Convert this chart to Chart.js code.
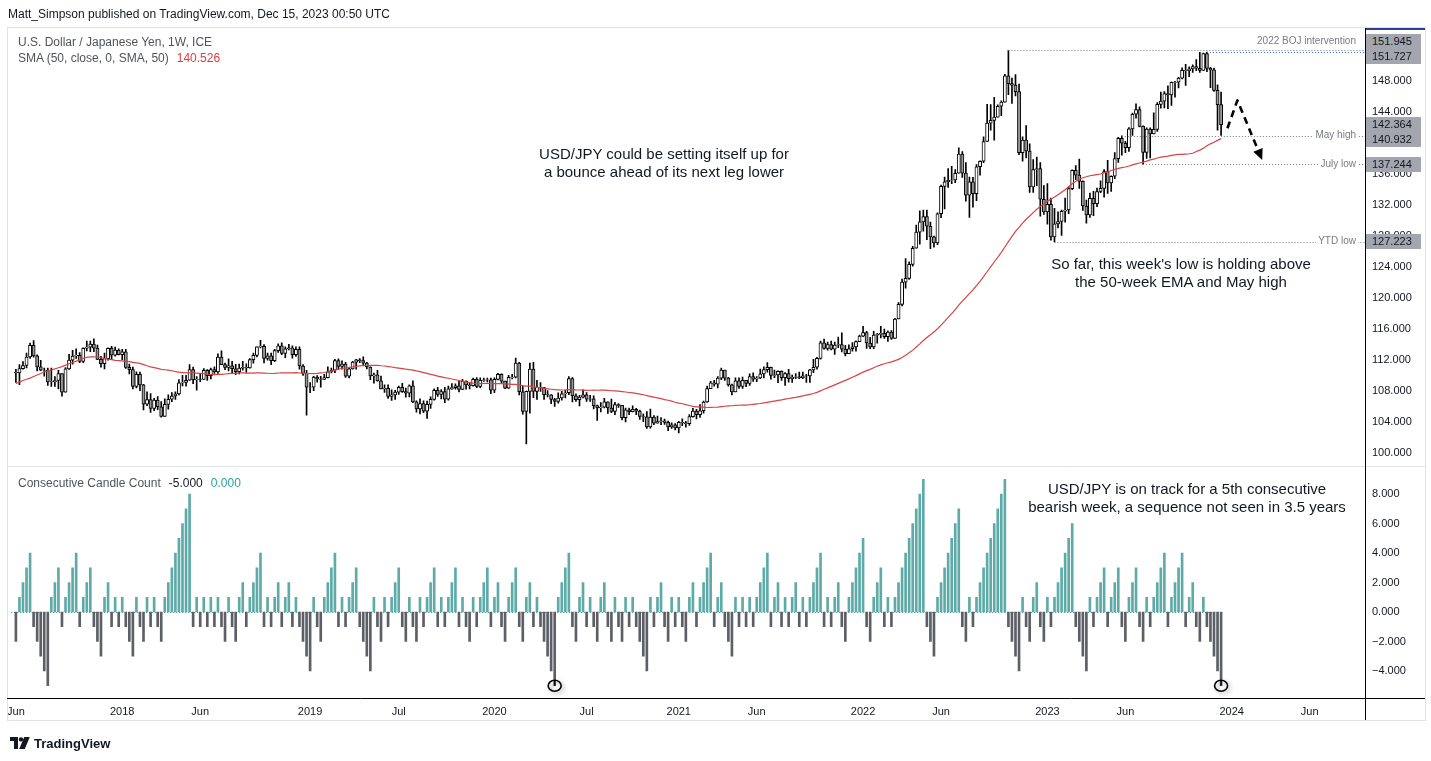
<!DOCTYPE html>
<html><head><meta charset="utf-8">
<script src="https://cdn.jsdelivr.net/npm/chart.js@4.4.1/dist/chart.umd.min.js"></script>
<style>
html,body{margin:0;padding:0;background:#fff;}
body{width:1431px;height:761px;position:relative;overflow:hidden;font-family:"Liberation Sans",Arial,sans-serif;color:#131722;}
#c{position:absolute;left:0;top:0;}
.t{position:absolute;white-space:nowrap;}
.note{position:absolute;width:420px;text-align:center;font-size:15px;line-height:18px;color:#131722;white-space:nowrap;}
.leg{position:absolute;font-size:12px;line-height:14px;color:#50535e;white-space:nowrap;}
.box{position:absolute;left:1366px;width:55px;height:15px;line-height:15px;background:#a3a6af;color:#131722;font-size:11px;padding-left:6px;box-sizing:border-box;}
.lvl{position:absolute;right:73px;font-size:10px;line-height:12px;color:#787b86;background:#fff;padding:0 2px;white-space:nowrap;}
</style></head><body>
<canvas id="c" width="1431" height="761"></canvas>
<div class="t" style="left:8px;top:7px;font-size:12px;line-height:14px;color:#131722;">Matt_Simpson published on TradingView.com, Dec 15, 2023 00:50 UTC</div>
<div class="leg" style="left:18px;top:35px;">U.S. Dollar / Japanese Yen, 1W, ICE</div>
<div class="leg" style="left:18px;top:51px;">SMA (50, close, 0, SMA, 50)<span style="color:#e0393e;margin-left:8px;">140.526</span></div>
<div class="leg" style="left:18px;top:476px;">Consecutive Candle Count<span id="cntVal" style="color:#131722;margin-left:8px;">-5.000</span><span style="color:#26a69a;margin-left:8px;">0.000</span></div>
<div class="note" style="left:454px;top:145px;">USD/JPY could be setting itself up for<br>a bounce ahead of its next leg lower</div>
<div class="note" style="left:971px;top:255px;">So far, this week's low is holding above<br>the 50-week EMA and May high</div>
<div class="note" style="left:977px;top:480px;">USD/JPY is on track for a 5th consecutive<br>bearish week, a sequence not seen in 3.5 years</div>
<div style="position:absolute;left:0;top:699px;width:7px;height:20px;background:#fff;"></div>
<div class="t" style="left:10px;top:736px;height:14px;display:flex;align-items:center;">
<svg width="20" height="12" viewBox="0 0 20 12"><path d="M0 0h8v12H4V4H0z" fill="#131722"/><circle cx="11" cy="2.4" r="2.2" fill="#131722"/><path d="M14.2 0h5.6l-5 12H9.2z" fill="#131722"/></svg>
<span style="margin-left:4px;font-size:13px;font-weight:bold;color:#131722;">TradingView</span></div>
<div id="ov"></div>
<script>
// ---- data (weekly USD/JPY, first candle = week of 2017-06-05) ----
const firstWeek = '2017-06-05';
const tickWeeks  = [0,30,52,83,108,135,161,187,209,239,261,291,313,343,365];
const tickLabels = ['Jun','2018','Jun','2019','Jul','2020','Jul','2021','Jun','2022','Jun','2023','Jun','2024','Jun'];

// 49 weekly closes before the first candle (used for SMA 50 and candle count history)
const priorCloses = [102.52,100.57,104.87,106.13,102.06,101.84,101.26,100.21,101.82,103.94,
102.59,102.27,100.99,101.32,102.91,104.16,103.81,104.71,103.10,106.65,
110.89,113.23,113.52,115.29,117.91,117.27,116.96,116.95,114.49,114.58,
115.11,112.59,113.23,112.89,112.13,114.05,114.79,112.69,111.33,111.39,
111.10,108.63,109.16,111.50,112.71,113.37,111.28,111.33,110.40];

const closes = [
110.33,110.88,111.29,112.39,113.90,112.53,111.12,110.70,110.69,109.18,
109.20,109.35,110.25,107.84,110.85,111.99,112.51,112.61,111.82,113.52,
113.67,114.05,113.53,112.07,111.52,112.17,113.49,112.61,113.28,112.69,
113.05,111.05,110.76,108.60,110.16,108.79,106.31,106.90,105.75,106.82,
105.96,104.72,106.28,106.93,107.35,107.62,109.05,109.10,109.38,110.77,
109.42,109.53,109.50,110.66,109.98,110.76,110.46,112.39,111.40,111.05,
111.25,110.87,110.50,110.95,111.05,110.98,112.05,112.60,113.70,113.75,
112.20,112.55,111.90,113.20,113.82,112.85,113.45,113.57,112.70,113.39,
111.22,110.27,108.50,108.48,109.78,109.55,109.48,109.72,110.48,110.68,
111.93,111.17,111.47,109.91,110.86,111.72,112.02,111.92,111.59,111.10,
109.95,110.07,109.30,108.28,108.35,107.30,107.50,107.85,108.47,107.91,
107.71,108.68,106.59,105.68,106.37,105.39,106.28,106.92,108.09,107.56,
107.92,106.95,108.29,108.43,108.67,108.19,109.26,108.79,108.68,109.50,
108.58,109.37,109.43,109.44,108.09,109.50,110.14,109.27,108.35,109.75,
109.78,111.60,107.90,105.36,107.94,110.83,107.94,108.48,108.44,107.53,
107.50,106.90,106.64,107.10,107.63,107.77,109.59,107.38,106.87,107.21,
107.51,106.93,106.99,106.12,105.83,105.92,106.60,105.80,105.37,106.23,
106.15,104.56,105.57,105.32,105.62,105.40,104.71,104.65,103.36,104.63,
103.86,104.06,104.16,103.95,103.35,103.62,103.24,103.95,103.88,103.77,
104.70,105.41,104.94,105.45,106.58,108.31,109.04,108.87,109.66,110.69,
109.66,108.78,107.89,109.31,108.59,109.37,108.97,109.86,109.53,109.67,
110.21,110.75,111.05,110.00,110.08,110.55,109.72,110.25,109.59,109.79,
109.84,109.71,109.94,109.93,110.73,111.06,112.20,114.22,113.48,114.00,
113.38,113.91,114.00,113.40,112.81,113.45,113.70,114.37,115.08,115.55,
114.19,113.68,115.20,115.30,115.45,115.01,115.59,114.79,117.29,119.17,
122.05,122.53,124.33,126.42,128.50,129.83,130.51,129.26,127.89,127.12,
130.87,134.41,135.00,135.20,135.23,136.10,138.57,136.12,133.28,134.99,
133.45,136.94,137.64,140.19,142.56,142.91,143.33,144.74,145.28,148.68,
147.66,147.47,146.62,138.75,140.37,138.97,134.32,136.58,136.69,132.74,
131.11,132.08,127.87,129.57,129.87,131.19,131.36,134.12,136.48,135.86,
135.05,131.87,130.72,132.86,132.18,133.74,134.15,136.30,134.84,135.71,
137.99,140.60,139.97,139.40,141.83,143.71,144.31,142.14,138.78,141.81,
141.17,141.75,144.98,145.40,146.39,146.21,147.83,147.86,148.37,149.37,
149.32,149.57,149.86,149.65,149.38,151.53,149.62,149.44,146.80,144.95,
142.364];

const highs = [
110.80,111.42,111.79,112.90,114.17,114.49,112.65,111.97,110.95,110.96,
110.95,109.85,110.67,110.19,111.03,112.72,113.26,113.44,112.95,113.57,
114.45,114.45,114.73,113.91,112.46,112.88,113.57,113.75,113.65,113.43,
113.38,113.39,111.48,111.08,110.48,110.45,108.87,107.90,107.68,107.05,
107.29,106.64,107.00,107.49,107.79,107.90,109.48,110.03,110.02,111.40,
111.09,109.85,110.28,110.90,110.75,110.96,111.13,112.80,113.18,111.59,
112.15,111.82,111.45,111.48,111.83,111.50,112.17,112.88,113.70,114.55,
113.98,112.90,112.90,113.39,114.09,114.21,113.70,114.03,113.83,113.71,
113.70,111.40,110.67,109.10,109.89,110.00,109.88,110.16,111.13,110.95,
112.08,112.14,111.90,111.69,111.00,111.83,112.10,112.17,112.40,111.70,
111.13,110.32,110.67,109.92,108.80,108.80,108.16,108.10,108.64,108.99,
108.38,108.78,109.32,106.74,106.98,106.73,106.70,107.23,108.27,108.48,
108.18,108.47,108.63,108.95,108.93,109.28,109.49,109.31,109.13,109.68,
109.73,109.70,109.68,109.67,109.68,109.70,110.29,110.21,109.25,110.02,
110.14,112.23,111.71,108.60,108.00,111.60,111.71,109.38,109.10,108.08,
108.05,107.52,107.05,107.77,107.96,108.08,109.85,109.74,107.64,107.43,
108.16,107.79,107.44,107.39,106.18,106.49,107.05,106.58,106.95,106.55,
106.38,106.00,105.80,105.80,106.10,105.75,105.54,105.06,105.35,105.68,
104.83,104.75,104.56,104.38,104.12,103.89,103.79,104.09,104.40,104.09,
104.94,105.76,105.64,106.23,106.69,108.64,109.24,109.36,109.85,110.97,
110.49,109.76,108.88,109.70,109.70,109.79,109.32,110.20,110.33,109.85,
110.82,111.11,111.66,111.10,110.70,110.60,110.59,110.37,110.80,110.06,
110.26,110.43,110.45,110.16,110.79,112.08,112.35,114.45,114.69,114.32,
114.44,114.30,114.97,115.52,113.90,113.95,114.26,114.47,115.20,116.35,
115.70,114.92,115.69,115.44,116.34,116.00,115.76,115.80,117.36,119.41,
122.44,125.09,124.68,126.68,129.40,131.25,131.34,131.34,129.78,128.00,
130.99,134.56,135.59,136.71,137.00,136.58,139.39,138.88,137.47,135.59,
135.58,137.23,137.70,140.80,144.99,144.96,145.90,144.93,145.43,148.86,
151.945,148.38,148.83,147.60,140.80,142.25,139.89,137.86,138.18,137.48,
134.49,134.77,132.88,131.58,131.12,131.36,132.90,134.33,136.54,137.10,
137.91,135.11,132.64,133.54,133.76,134.18,135.13,136.56,137.77,135.76,
138.75,140.73,140.932,140.23,141.98,143.87,145.07,144.68,142.20,141.95,
141.95,143.89,145.22,146.56,146.63,147.37,147.87,147.95,148.46,149.71,
150.16,149.83,150.08,150.78,151.70,151.59,151.727,149.75,149.68,147.50,
146.58];

const lows = [
109.10,108.82,110.80,110.97,112.19,112.35,110.60,110.62,109.92,108.73,
108.60,108.60,108.27,107.32,107.84,110.77,111.45,112.21,111.64,111.65,
113.17,113.07,113.07,112.03,111.07,110.84,111.99,112.03,112.48,112.65,
112.04,110.92,110.19,108.28,108.40,108.05,105.55,106.09,105.24,105.47,
105.60,104.63,104.73,105.66,106.62,106.92,107.49,108.65,108.63,109.36,
108.95,108.11,109.20,109.56,109.37,109.57,110.28,110.27,111.38,110.75,
110.58,110.33,110.11,110.20,110.67,110.38,110.94,111.60,112.40,113.57,
111.63,111.98,111.38,111.78,112.97,112.70,112.30,113.30,112.23,112.45,
110.82,110.00,104.87,107.77,108.05,109.15,108.50,109.50,109.70,110.34,
110.36,110.80,110.80,109.75,109.70,110.83,110.83,111.66,111.34,110.86,
109.47,109.02,109.28,108.27,107.82,107.04,106.78,106.90,107.55,107.80,
107.20,107.22,106.48,105.27,105.05,105.20,104.46,105.75,106.83,107.31,
106.97,106.49,106.81,108.21,108.25,107.89,108.18,108.25,108.26,108.61,
108.42,108.44,109.23,109.17,107.65,107.77,109.44,108.93,108.31,108.32,
109.57,109.70,107.50,105.00,101.18,105.15,107.15,106.92,107.95,106.92,
107.25,106.36,106.02,106.42,106.83,107.11,107.52,106.58,106.65,106.07,
107.10,106.64,106.64,105.68,104.19,105.29,105.80,105.11,105.20,104.93,
105.88,104.28,104.00,104.94,105.30,104.94,104.34,104.03,103.18,103.21,
103.65,103.92,103.66,103.69,102.87,103.16,102.96,102.59,103.52,103.33,
103.55,104.61,104.41,104.59,105.15,106.52,108.33,108.61,108.41,109.47,
109.36,108.61,107.48,107.90,108.34,108.34,108.57,108.72,109.25,109.19,
109.58,109.70,110.42,109.53,109.72,109.07,109.35,108.72,109.13,109.12,
109.59,109.59,109.60,109.11,109.11,110.35,110.82,112.10,113.41,113.26,
113.30,112.72,113.59,113.05,112.54,113.04,113.14,113.13,114.37,115.02,
113.48,113.47,113.47,114.16,114.86,114.78,114.40,114.66,114.82,117.32,
118.97,121.28,122.39,124.10,126.42,126.94,128.63,127.52,126.36,126.55,
126.87,130.38,131.50,134.26,134.74,134.87,136.12,135.56,132.51,130.41,
131.73,132.56,135.85,137.45,141.50,141.66,140.36,143.51,143.53,145.27,
146.23,145.10,146.06,138.48,137.67,138.06,133.62,133.63,134.50,130.57,
130.78,129.51,127.46,127.223,129.03,128.08,129.80,130.89,133.99,135.26,
134.13,131.30,129.64,130.40,130.63,131.80,133.60,133.01,133.50,133.75,
135.39,137.49,138.43,138.76,138.92,140.98,143.21,142.07,137.244,138.01,
138.06,141.51,141.51,144.48,144.54,144.44,144.85,145.91,147.10,148.28,
147.43,148.57,149.10,149.32,149.11,149.74,149.20,147.15,146.67,141.65,
140.97];

const levelLines  = [151.945, 151.727, 140.932, 137.244, 127.223];
const levelStarts = [280, 336, 312, 318, 293];
const levelColors = ['#787b86','#2962ff','#787b86','#787b86','#787b86'];
const axisBoxValues = [151.945, 151.727, 142.364, 140.932, 137.244, 127.223];
const axisBoxShift  = [-9, 4, 0, 4, 0, -1];
const levelTextLabels = ['2022 BOJ intervention','May high','July low','YTD low'];
const levelTextValues = [151.945, 140.932, 137.244, 127.223];
const levelTextShift  = [-9, -1, 0, -1];
const circledWeeks = [152, 340];
const projectionX = [341.8, 344.6, 351.6];
const projectionY = [141.9, 145.5, 137.8];

// ---- derived series ----
const opens = closes.map((c, i) => i === 0 ? priorCloses[priorCloses.length - 1] : closes[i - 1]);
const allCloses = priorCloses.concat(closes);
const sma = closes.map((_, i) => {
  const end = i + priorCloses.length; let s = 0;
  for (let k = end - 49; k <= end; k++) s += allCloses[k];
  return s / 50;
});
let run = 0;
for (let j = 1; j < priorCloses.length; j++) {
  const up = priorCloses[j] > priorCloses[j - 1];
  run = up ? (run > 0 ? run + 1 : 1) : (run < 0 ? run - 1 : -1);
}
const counts = closes.map((c, i) => {
  const up = c > opens[i];
  run = up ? (run > 0 ? run + 1 : 1) : (run < 0 ? run - 1 : -1);
  return run;
});
document.getElementById('cntVal').textContent = counts[counts.length - 1].toFixed(3);

const FONT = '"Liberation Sans", Arial, sans-serif';
Chart.defaults.font.family = FONT;

const decor = {
  id: 'decor',
  beforeDatasetsDraw(chart) {
    const {ctx} = chart; const x = chart.scales.x, y2 = chart.scales.y2;
    ctx.save();
    ctx.strokeStyle = '#2a8c86'; ctx.lineWidth = 1; ctx.setLineDash([1, 2]);
    const zy = Math.round(y2.getPixelForValue(0)) + 0.5;
    ctx.beginPath(); ctx.moveTo(chart.chartArea.left, zy); ctx.lineTo(x.getPixelForValue(closes.length - 0.5), zy); ctx.stroke();
    ctx.restore();
  },
  afterDatasetsDraw(chart) {
    const {ctx, chartArea} = chart; const x = chart.scales.x, y = chart.scales.y, y2 = chart.scales.y2;
    ctx.save();
    // level lines
    ctx.lineWidth = 1; ctx.setLineDash([1, 2]);
    levelLines.forEach((v, i) => {
      const py = Math.round(y.getPixelForValue(v)) + 0.5;
      ctx.strokeStyle = levelColors[i];
      ctx.beginPath(); ctx.moveTo(x.getPixelForValue(levelStarts[i]), py); ctx.lineTo(chartArea.right, py); ctx.stroke();
    });
    // projection arrow
    ctx.setLineDash([7, 5]); ctx.lineWidth = 2.6; ctx.strokeStyle = '#000'; ctx.lineJoin = 'round';
    const pts = projectionX.map((v, i) => [x.getPixelForValue(v), y.getPixelForValue(projectionY[i])]);
    const last = pts[pts.length - 1], prev = pts[pts.length - 2];
    const ang = Math.atan2(last[1] - prev[1], last[0] - prev[0]);
    const tip = [last[0], last[1]];
    const base = [tip[0] - 11 * Math.cos(ang), tip[1] - 11 * Math.sin(ang)];
    ctx.beginPath(); ctx.moveTo(pts[0][0], pts[0][1]);
    for (let i = 1; i < pts.length - 1; i++) ctx.lineTo(pts[i][0], pts[i][1]);
    ctx.lineTo(base[0], base[1]); ctx.stroke();
    ctx.setLineDash([]); ctx.fillStyle = '#000';
    ctx.beginPath(); ctx.moveTo(tip[0], tip[1]);
    ctx.lineTo(base[0] + 5 * Math.sin(ang), base[1] - 5 * Math.cos(ang));
    ctx.lineTo(base[0] - 5 * Math.sin(ang), base[1] + 5 * Math.cos(ang));
    ctx.closePath(); ctx.fill();
    // circles
    circledWeeks.forEach(w => {
      const cx = x.getPixelForValue(w), cy = y2.getPixelForValue(counts[w]);
      ctx.save();
      ctx.shadowColor = 'rgba(0,0,0,0.35)'; ctx.shadowBlur = 4; ctx.shadowOffsetX = 2; ctx.shadowOffsetY = 2;
      ctx.lineWidth = 1.6; ctx.strokeStyle = '#000';
      ctx.beginPath(); ctx.ellipse(cx, cy, 6.5, 5.5, 0, 0, Math.PI * 2); ctx.stroke();
      ctx.restore();
      ctx.fillStyle = '#000'; ctx.fillRect(cx - 0.6, cy - 5.5, 1.2, 5.5);
    });
    ctx.restore();
  },
  afterDraw(chart) {
    const {ctx, chartArea} = chart; const y = chart.scales.y;
    ctx.save(); ctx.setLineDash([]); ctx.lineWidth = 1;
    ctx.strokeStyle = '#e0e3eb';
    ctx.strokeRect(7.5, 27.5, 1418, 693);
    const sep = Math.round(y.bottom) + 0.5;
    ctx.beginPath(); ctx.moveTo(7, sep); ctx.lineTo(1425, sep); ctx.stroke();
    ctx.strokeStyle = '#000';
    const by = Math.round(chartArea.bottom) + 0.5;
    ctx.beginPath(); ctx.moveTo(7, by); ctx.lineTo(1425, by); ctx.stroke();
    const rx = Math.round(chartArea.right) + 0.5;
    ctx.beginPath(); ctx.moveTo(rx, 28); ctx.lineTo(rx, 720); ctx.stroke();
    ctx.strokeStyle = '#2f3f8f'; ctx.lineWidth = 2;
    ctx.beginPath(); ctx.moveTo(1366, 29); ctx.lineTo(1425, 29); ctx.stroke();
    ctx.restore();
  }
};

const wickData = closes.map((c, i) => ({x: i, y: [Math.min(lows[i], opens[i], c), Math.max(highs[i], opens[i], c)]}));
const bodyData = closes.map((c, i) => ({x: i, y: [Math.min(opens[i], c), Math.max(opens[i], c)]}));
const bodyColors = closes.map((c, i) => c > opens[i] ? '#ffffff' : '#9a9a9a');
const countColors = counts.map(v => v > 0 ? '#5eaaa6' : '#5d5f66');

const chart = new Chart(document.getElementById('c'), {
  type: 'bar',
  data: {
    datasets: [
      {type: 'line', label: 'SMA', data: sma.map((v, i) => ({x: i, y: v})), yAxisID: 'y', borderColor: '#d84343', borderWidth: 1.2, pointRadius: 0, tension: 0, order: 0},
      {label: 'body', data: bodyData, yAxisID: 'y', backgroundColor: bodyColors, borderColor: '#000', borderWidth: 1, borderSkipped: false, barThickness: 3.2, grouped: false, order: 1},
      {label: 'wick', data: wickData, yAxisID: 'y', backgroundColor: '#000', borderWidth: 0, barThickness: 1, grouped: false, order: 2},
      {label: 'count', data: counts.map((v, i) => ({x: i, y: v})), yAxisID: 'y2', backgroundColor: countColors, borderWidth: 0, barThickness: 2, grouped: false, order: 3}
    ]
  },
  options: {
    responsive: false, animation: false, devicePixelRatio: 1,
    layout: {padding: {left: 8, top: 28, right: 6, bottom: 41}},
    plugins: {legend: {display: false}, tooltip: {enabled: false}},
    scales: {
      x: {
        type: 'linear', min: -1.32, max: 380.6, offset: false,
        grid: {display: false, drawTicks: false}, border: {display: false},
        afterBuildTicks: s => { s.ticks = tickWeeks.map(v => ({value: v})); },
        afterFit: s => { s.height = 22; },
        ticks: {autoSkip: false, maxRotation: 0, padding: 7, color: '#131722', font: {size: 11},
          callback: (v, i) => tickLabels[i]}
      },
      y: {
        type: 'linear', position: 'right', stack: 'panes', stackWeight: 438,
        min: 98.32, max: 154.84,
        grid: {display: false, drawTicks: false}, border: {display: false},
        afterFit: s => { s.width = 60; },
        ticks: {stepSize: 4, includeBounds: false, padding: 7, color: '#131722', font: {size: 11},
          callback: v => v <= 150 ? Number(v).toFixed(3) : ''}
      },
      y2: {
        type: 'linear', position: 'right', stack: 'panes', stackWeight: 232,
        min: -5.83, max: 9.9,
        grid: {display: false, drawTicks: false}, border: {display: false},
        afterFit: s => { s.width = 60; },
        ticks: {stepSize: 2, includeBounds: false, padding: 7, color: '#131722', font: {size: 11},
          callback: v => (v < 0 ? '\u2212' : '') + Math.abs(v).toFixed(3)}
      }
    }
  },
  plugins: [decor]
});

// axis value boxes and level labels (HTML text positioned from the price scale)
const ov = document.getElementById('ov');
const ys = chart.scales.y;
axisBoxValues.forEach((v, i) => {
  const d = document.createElement('div');
  d.className = 'box';
  d.style.top = (ys.getPixelForValue(v) + axisBoxShift[i] - 7.5) + 'px';
  d.textContent = v.toFixed(3);
  ov.appendChild(d);
});
levelTextLabels.forEach((t, i) => {
  const d = document.createElement('div');
  d.className = 'lvl';
  d.style.top = (ys.getPixelForValue(levelTextValues[i]) + levelTextShift[i] - 6) + 'px';
  if (i === 0) d.style.background = 'transparent';
  d.textContent = t;
  ov.appendChild(d);
});
</script>
</body></html>
